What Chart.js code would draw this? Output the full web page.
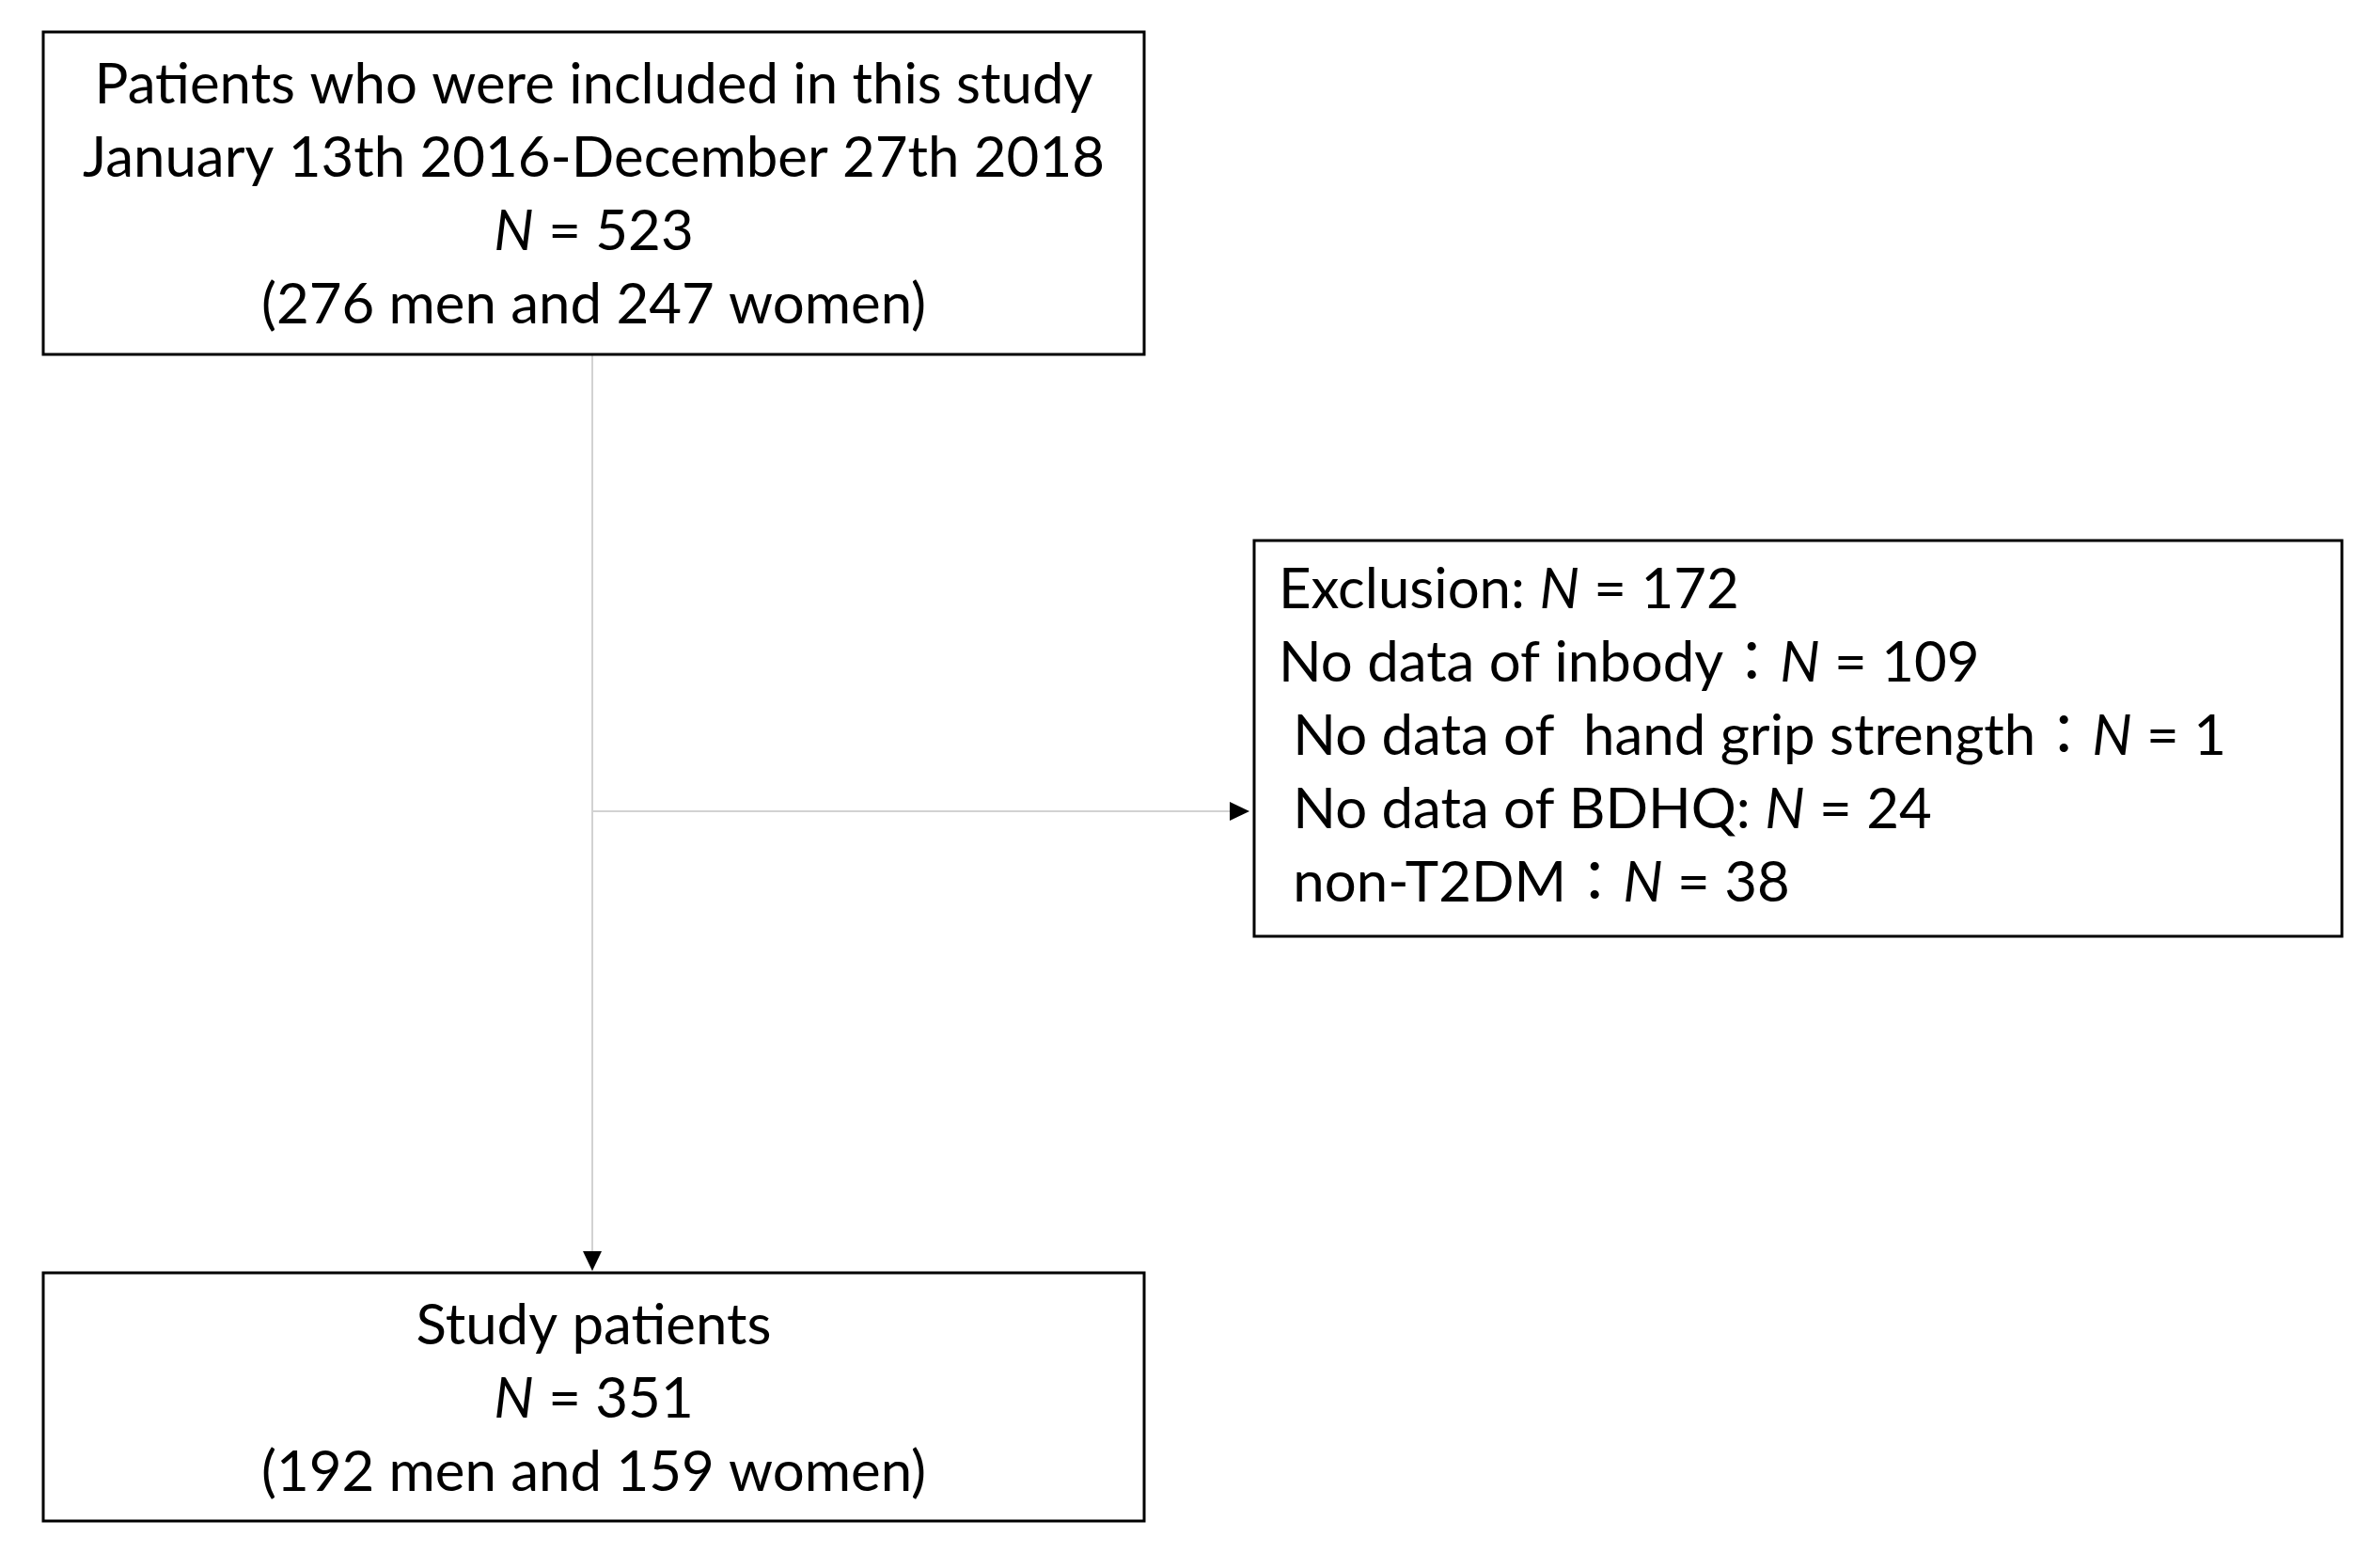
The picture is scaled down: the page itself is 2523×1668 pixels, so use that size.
<!DOCTYPE html>
<html>
<head>
<meta charset="utf-8">
<title>Study flow</title>
<script src="https://cdn.jsdelivr.net/npm/chart.js"></script>
<style>
    html, body { margin: 0; padding: 0; background: #fff; }
    #wrap { width: 2523px; height: 1668px; position: relative; }
</style>
</head>
<body>
<div id="wrap"><canvas id="chart"></canvas></div>
<script>
// ----------------------
// Data
// ----------------------
const enrolledLines = ["Patients who were included in this study", "January 13th 2016-December 27th 2018"];
const enrolledN = 523;
const enrolledMen = 276;
const enrolledWomen = 247;

const excludedN = 172;
const exclusionReasons = ["No data of inbody", " No data of  hand grip strength", " No data of BDHQ", " non-T2DM"];
const exclusionSeps = ["：", "：", ": ", "："];
const exclusionCounts = [109, 1, 24, 38];

const studyLines = ["Study patients"];
const studyN = 351;
const studyMen = 192;
const studyWomen = 159;

// ----------------------
// Layout (page units, same as the hidden axes)
// ----------------------
const W = 2523, H = 1668;
const boxTop = { x0: 46, y0: 34, x1: 1217, y1: 377 };
const boxSide = { x0: 1334, y0: 575, x1: 2491, y1: 996 };
const boxBottom = { x0: 46, y0: 1354, x1: 1217, y1: 1618 };
const stemX = 630;
const branchY = 863;
const lineStep = 78;
const fontFamily = "Lato, 'Noto Sans CJK JP', sans-serif";
const lineColor = "#d2d2d2";

// connector lines as scatter datasets
const stemData = [{ x: stemX, y: boxTop.y1 }, { x: stemX, y: boxBottom.y0 - 4 }];
const branchData = [{ x: stemX, y: branchY }, { x: boxSide.x0 - 6, y: branchY }];

let fontPx = 54;

function nRuns(prefix, n, suffix) {
    const runs = [];
    if (prefix) runs.push({ t: prefix });
    runs.push({ t: "N", italic: true });
    runs.push({ t: " = " + n + (suffix || "") });
    return runs;
}

function drawRuns(ctx, runs, x, y, align) {
    let total = 0;
    runs.forEach(r => {
        ctx.font = (r.italic ? "italic " : "") + fontPx + "px " + fontFamily;
        r.w = ctx.measureText(r.t).width;
        total += r.w;
    });
    let cx = align === "center" ? x - total / 2 : x;
    runs.forEach(r => {
        ctx.font = (r.italic ? "italic " : "") + fontPx + "px " + fontFamily;
        ctx.fillText(r.t, cx, y);
        cx += r.w;
    });
}

// ----------------------
// Plugin: boxes, text, arrow heads
// ----------------------
const flowPlugin = {
    id: "flowPlugin",
    afterDatasetsDraw(chart) {
        const ctx = chart.ctx;
        const sx = chart.scales.x, sy = chart.scales.y;
        const px = v => sx.getPixelForValue(v);
        const py = v => sy.getPixelForValue(v);

        // fit font size to the first line width
        ctx.save();
        ctx.font = "100px " + fontFamily;
        fontPx = 100 * 1062 / ctx.measureText(enrolledLines[0]).width;

        // boxes
        ctx.strokeStyle = "#000";
        ctx.lineWidth = 3;
        [boxTop, boxSide, boxBottom].forEach(b => {
            ctx.strokeRect(px(b.x0), py(b.y0), px(b.x1) - px(b.x0), py(b.y1) - py(b.y0));
        });

        // arrow heads
        ctx.fillStyle = "#000";
        const tipDown = py(boxBottom.y0 - 2);
        ctx.beginPath();
        ctx.moveTo(px(stemX) - 10, tipDown - 21);
        ctx.lineTo(px(stemX) + 10, tipDown - 21);
        ctx.lineTo(px(stemX), tipDown);
        ctx.closePath();
        ctx.fill();
        const tipRight = px(boxSide.x0 - 5);
        ctx.beginPath();
        ctx.moveTo(tipRight - 21, py(branchY) - 10);
        ctx.lineTo(tipRight - 21, py(branchY) + 10);
        ctx.lineTo(tipRight, py(branchY));
        ctx.closePath();
        ctx.fill();

        // text
        ctx.textBaseline = "alphabetic";
        ctx.textAlign = "left";
        const cTop = (px(boxTop.x0) + px(boxTop.x1)) / 2;
        const topRows = enrolledLines.map(s => [{ t: s }]);
        topRows.push(nRuns("", enrolledN));
        topRows.push([{ t: "(" + enrolledMen + " men and " + enrolledWomen + " women)" }]);
        topRows.forEach((runs, i) => drawRuns(ctx, runs, cTop, py(110 + i * lineStep), "center"));

        const sideRows = [nRuns("Exclusion: ", excludedN)];
        exclusionReasons.forEach((r, i) => {
            sideRows.push(nRuns(r + exclusionSeps[i], exclusionCounts[i]));
        });
        sideRows.forEach((runs, i) => drawRuns(ctx, runs, px(boxSide.x0 + 26), py(647 + i * lineStep), "left"));

        const cBot = (px(boxBottom.x0) + px(boxBottom.x1)) / 2;
        const botRows = studyLines.map(s => [{ t: s }]);
        botRows.push(nRuns("", studyN));
        botRows.push([{ t: "(" + studyMen + " men and " + studyWomen + " women)" }]);
        botRows.forEach((runs, i) => drawRuns(ctx, runs, cBot, py(1430 + i * lineStep), "center"));
        ctx.restore();
    }
};

// ----------------------
// Chart
// ----------------------
const chart = new Chart(document.getElementById("chart").getContext("2d"), {
    type: "scatter",
    data: {
        datasets: [
            { data: stemData, showLine: true, borderColor: lineColor, borderWidth: 2, pointRadius: 0 },
            { data: branchData, showLine: true, borderColor: lineColor, borderWidth: 2, pointRadius: 0 }
        ]
    },
    options: {
        responsive: true,
        maintainAspectRatio: false,
        animation: false,
        layout: { padding: 0 },
        plugins: { legend: { display: false }, tooltip: { enabled: false } },
        scales: {
            x: { type: "linear", min: 0, max: W, display: false },
            y: { type: "linear", min: 0, max: H, reverse: true, display: false }
        }
    },
    plugins: [flowPlugin]
});
</script>
</body>
</html>
